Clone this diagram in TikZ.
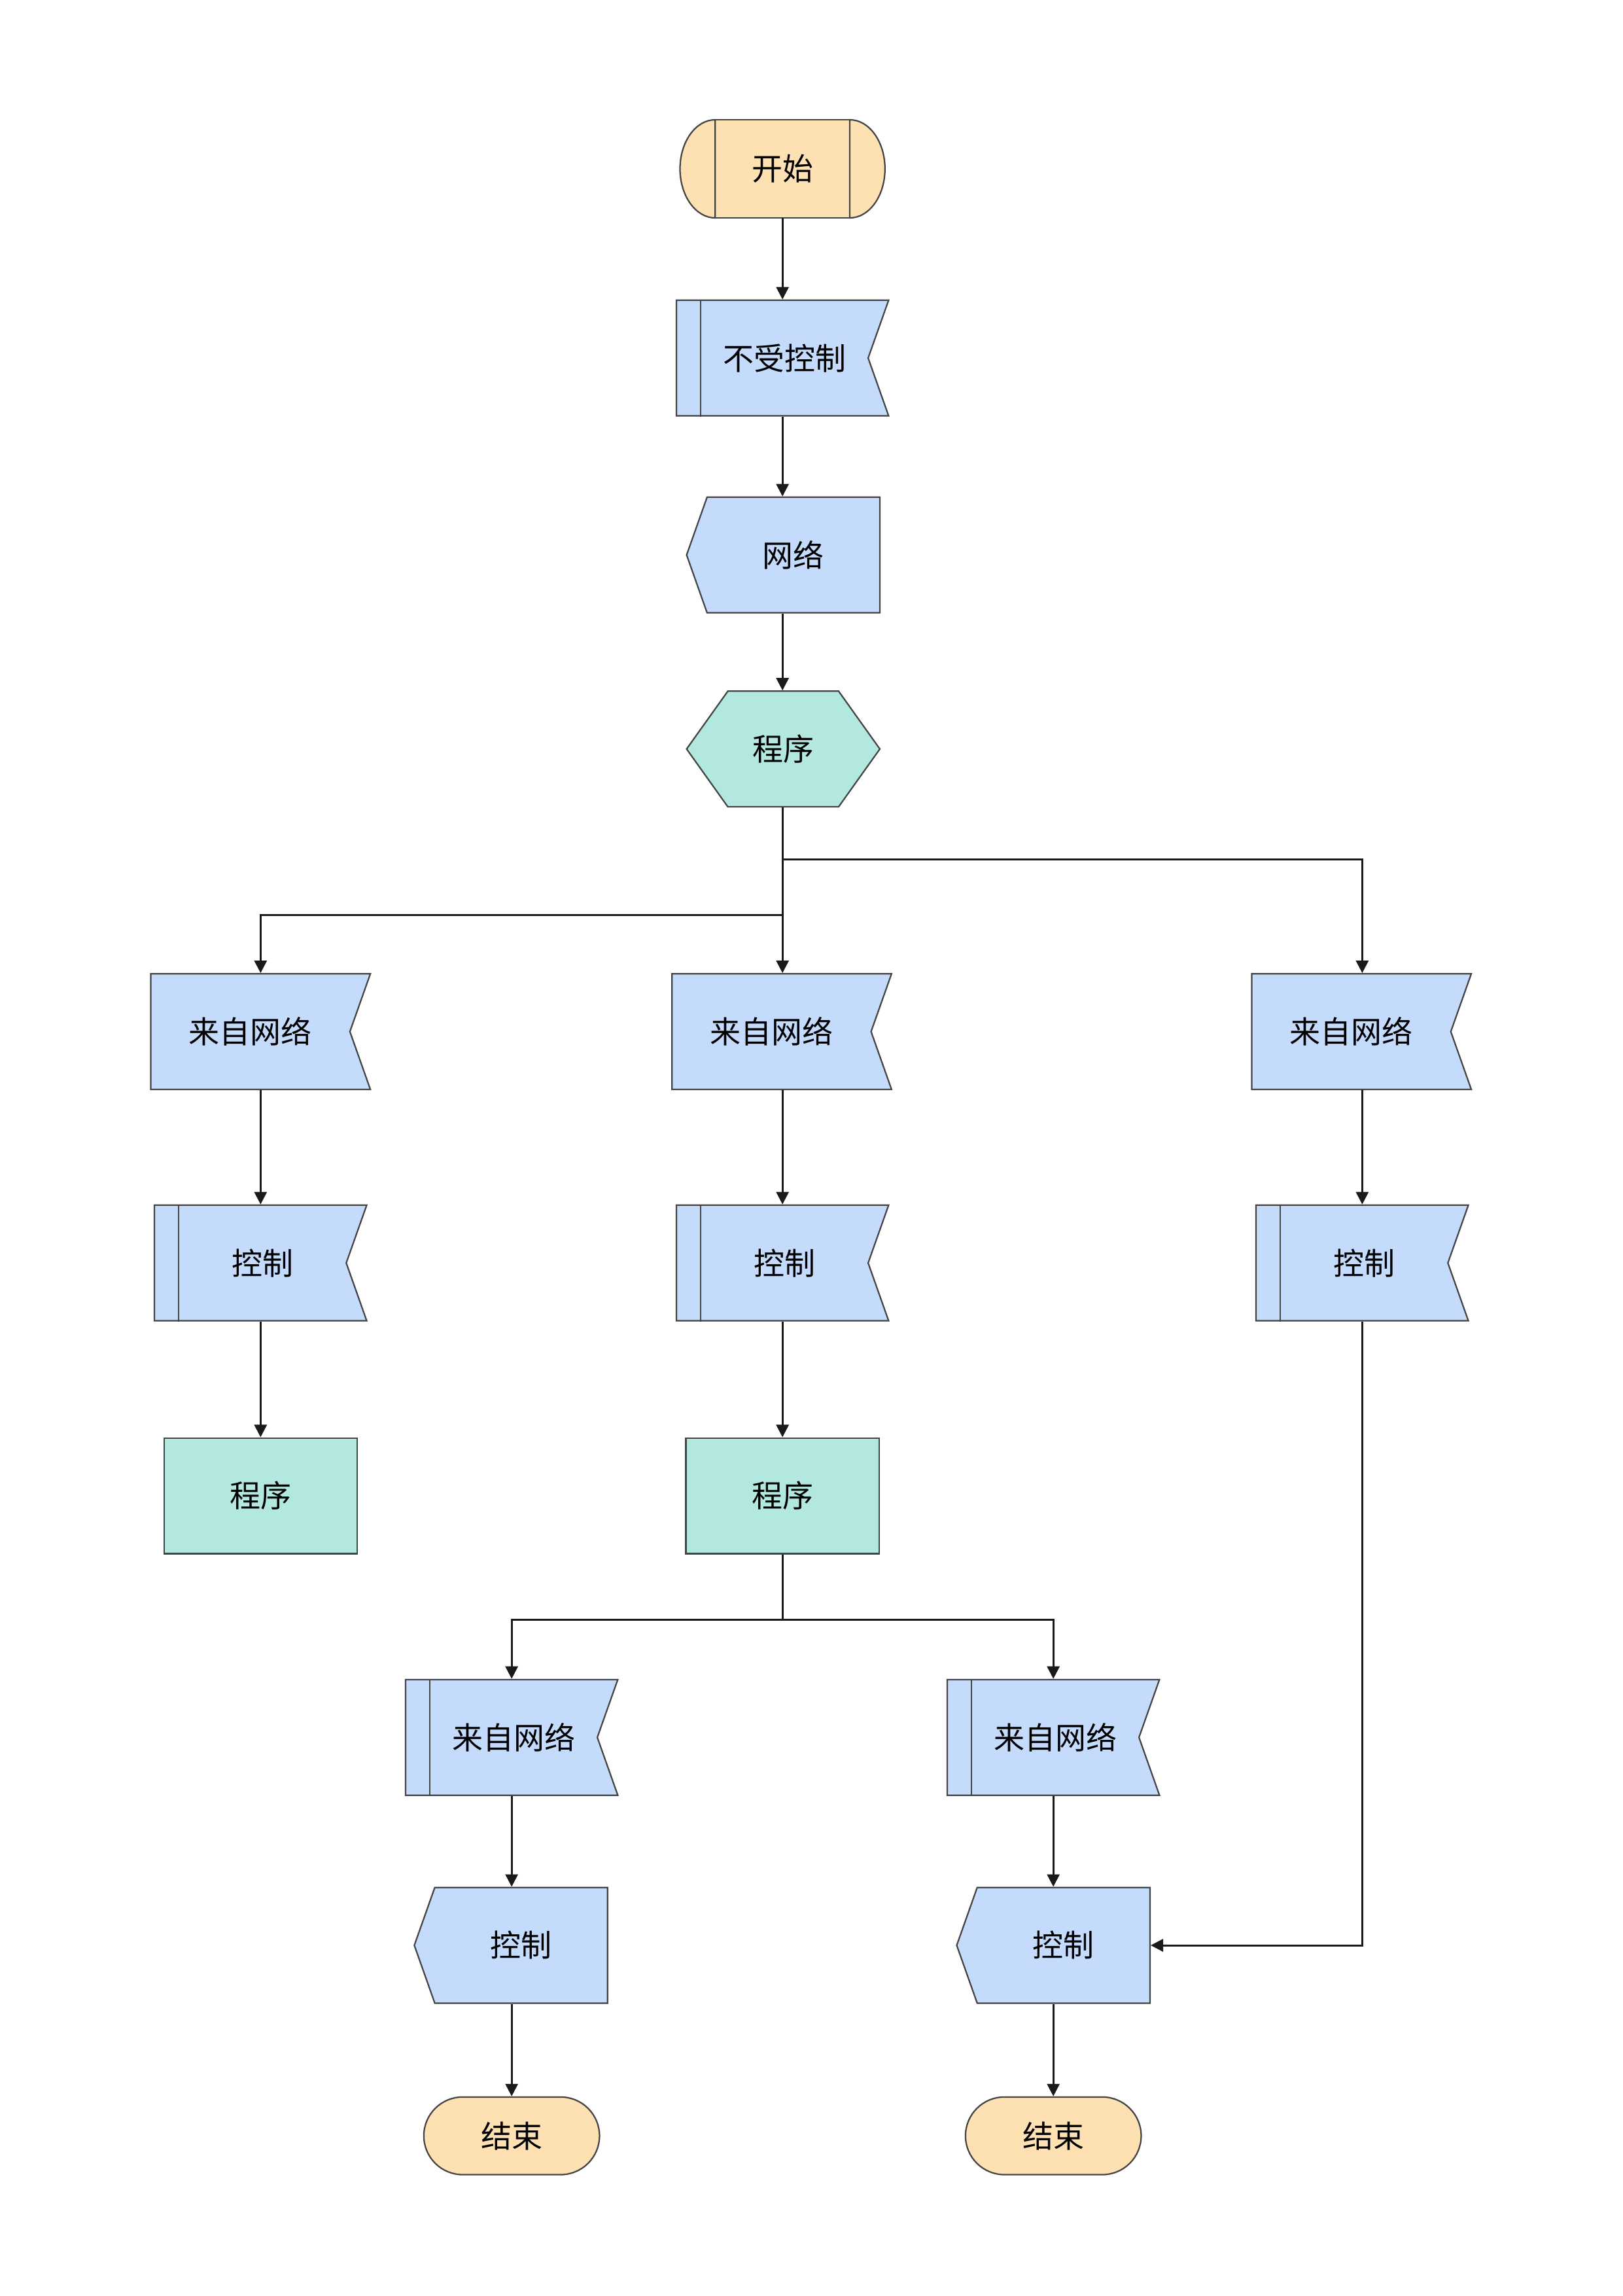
\documentclass[tikz,border=0pt]{standalone}
\usepackage{fontspec}
\newfontfamily\cjkfont{Noto Sans CJK SC}
\usetikzlibrary{shapes.symbols,arrows.meta}
\definecolor{flowblue}{RGB}{197,219,252}
\definecolor{flowgreen}{RGB}{178,232,223}
\definecolor{floworange}{RGB}{253,225,178}
\definecolor{flowline}{RGB}{68,68,68}
\definecolor{arrowline}{RGB}{26,26,26}
\tikzset{
  box/.style={draw=flowline, line width=1pt, inner sep=0pt, minimum height=79pt,
    font=\cjkfont\fontsize{21}{25}\selectfont},
  inbox/.style={box, signal, signal to=nowhere, signal from=east, signal pointer angle=141,
    fill=flowblue, minimum width=#1},
  outbox/.style={box, signal, signal to=west, signal pointer angle=141,
    fill=flowblue, minimum width=132pt},
  hexbox/.style={box, signal, signal to=east and west, signal pointer angle=109,
    fill=flowgreen, minimum width=132pt},
  progbox/.style={box, rectangle, fill=flowgreen, minimum width=132pt},
  endbox/.style={box, rectangle, rounded corners=26.5pt, fill=floworange,
    minimum width=120pt, minimum height=53pt},
  startbox/.style={box, rectangle, fill=floworange, outer sep=0pt,
    minimum width=92pt, minimum height=67pt},
  capline/.style={draw=flowline, fill=floworange, line width=1pt},
  barline/.style={draw=flowline, line width=1pt},
  arr/.style={draw=arrowline, line width=1.3pt, -{Triangle[length=8.5pt,width=8.5pt]}}
}
\begin{document}
\begin{tikzpicture}[x=1pt, y=1pt]
\useasboundingbox (0,0) rectangle (1108.5,-1568);
% columns for the connectors
\coordinate (colA) at (178,0);
\coordinate (colB) at (534.5,0);
\coordinate (colC) at (930.5,0);
\coordinate (colD) at (349.5,0);
\coordinate (colE) at (719.5,0);
% top column
\node[startbox] (start) at (534.5,-115.3) {开始};
\filldraw[capline] (start.north west) arc[start angle=90, end angle=270, x radius=24pt, y radius=33.5pt] -- cycle;
\filldraw[capline] (start.north east) arc[start angle=90, end angle=-90, x radius=24pt, y radius=33.5pt] -- cycle;
\node[inbox=145pt] (ctl) at (527.5,-244.5) {\hspace*{17pt}不受控制};
\node[outbox] (net) at (542,-379) {网络};
\node[hexbox] (hex) at (535,-511.5) {程序};
% three branches
\node[inbox=150pt] (fr1) at (171,-704.5) {来自网络};
\node[inbox=150pt] (fr2) at (527,-704.5) {来自网络};
\node[inbox=150pt] (fr3) at (923,-704.5) {来自网络};
\node[inbox=145pt] (ct1) at (171,-862.5) {\hspace*{17pt}控制};
\node[inbox=145pt] (ct2) at (527.5,-862.5) {\hspace*{17pt}控制};
\node[inbox=145pt] (ct3) at (923.5,-862.5) {\hspace*{17pt}控制};
\node[progbox] (pg1) at (178,-1021.5) {程序};
\node[progbox] (pg2) at (534.5,-1021.5) {程序};
% lower part
\node[inbox=145pt] (fb1) at (342.5,-1186.5) {\hspace*{17pt}来自网络};
\node[inbox=145pt] (fb2) at (712.5,-1186.5) {\hspace*{17pt}来自网络};
\node[outbox] (cl1) at (356,-1328.5) {控制};
\node[outbox] (cl2) at (726.5,-1328.5) {控制};
\node[endbox] (en1) at (349.5,-1458.6) {结束};
\node[endbox] (en2) at (719.5,-1458.6) {结束};
\foreach \n in {ctl,ct1,ct2,ct3,fb1,fb2}
  \draw[barline] ([xshift=17pt]\n.north west) -- ([xshift=17pt]\n.south west);
% connectors
\coordinate (br1) at (534.5,-587);
\coordinate (br2) at (534.5,-625);
\coordinate (br3) at (534.5,-1106);
\draw[arr] (start.south) -- (ctl.north -| colB);
\draw[arr] (ctl.south -| colB) -- (net.north -| colB);
\draw[arr] (net.south -| colB) -- (hex.north -| colB);
\draw[arr] (hex.south -| colB) -- (fr2.north -| colB);
\draw[arr] (hex.south -| colB) -- (br1) -| (fr3.north -| colC);
\draw[arr] (br2) -| (fr1.north -| colA);
\foreach \a/\b/\c in {fr1/ct1/colA,fr2/ct2/colB,fr3/ct3/colC,ct1/pg1/colA,ct2/pg2/colB,
    fb1/cl1/colD,fb2/cl2/colE,cl1/en1/colD,cl2/en2/colE}
  \draw[arr] (\a.south -| \c) -- (\b.north -| \c);
\draw[arr] (pg2.south) -- (br3) -| (fb1.north -| colD);
\draw[arr] (br3) -| (fb2.north -| colE);
\draw[arr] (ct3.south -| colC) |- (cl2.east);
\end{tikzpicture}
\end{document}
